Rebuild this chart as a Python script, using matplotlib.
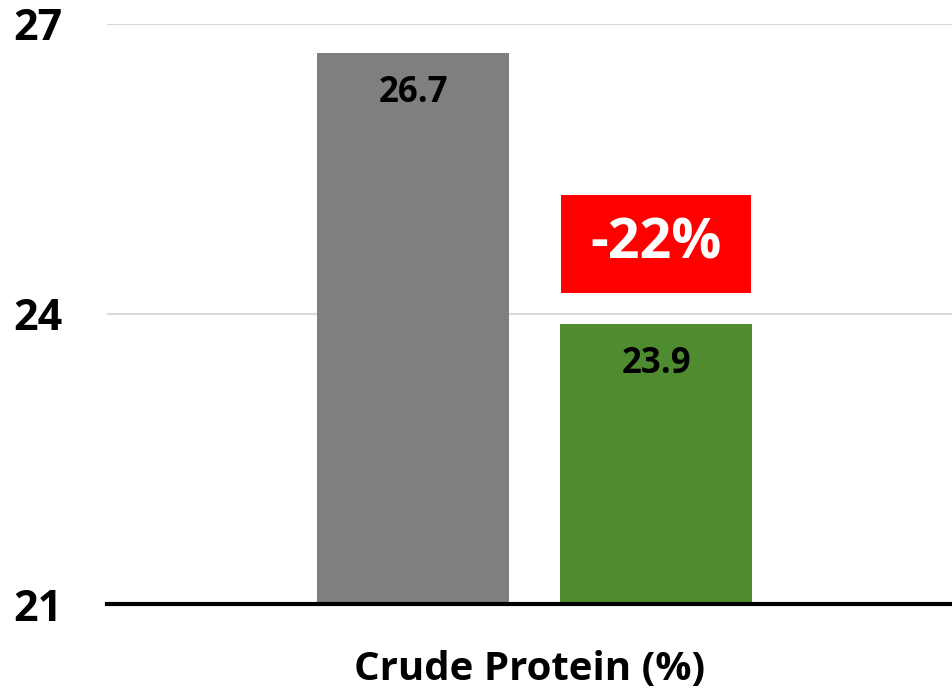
import matplotlib.pyplot as plt

plt.rcParams['font.family'] = ['Open Sans', 'DejaVu Sans']

groups = ['before', 'after']
values = [26.7, 23.9]
colors = ['#7F7F7F', '#4E8C2F']
change_label = '-22%'
box_bottom, box_top = 24.22, 25.23
yticks = [21, 24, 27]
xlabel = 'Crude Protein (%)'

fig = plt.figure(figsize=(9.53, 6.91), dpi=100)
ax = fig.add_axes([0.1123, 0.1259, 0.8877, 0.8394])

x = list(range(len(values)))
bars = ax.bar(x, [v - 21 for v in values], bottom=21, width=0.79, color=colors, zorder=3)

for xi, v in zip(x, values):
    ax.annotate(f'{v:.1f}', (xi, v), xytext=(0, -29), textcoords='offset points',
                ha='center', va='center', fontsize=25, fontweight='bold', color='black', zorder=4)

# red change box over the second bar
ax.bar(x[1], box_top - box_bottom, bottom=box_bottom, width=0.778, color='#FF0000', zorder=3)
ax.text(x[1], (box_top + box_bottom) / 2, change_label, ha='center', va='center',
        fontsize=40, fontweight='bold', color='white', zorder=4)

ax.set_xlim(-1.259, 2.222)
ax.set_ylim(21, 27)
ax.set_yticks(yticks)
ax.set_yticklabels([str(t) for t in yticks], fontsize=31, fontweight='bold')
ax.tick_params(axis='y', length=0, pad=32)
ax.set_xticks([])
ax.set_xlabel(xlabel, fontsize=29, fontweight='bold', labelpad=33)

for s in ['top', 'right', 'left']:
    ax.spines[s].set_visible(False)
ax.spines['bottom'].set_linewidth(3)
ax.spines['bottom'].set_zorder(5)
ax.grid(axis='y', color='#D9D9D9', linewidth=1.5, zorder=0)
ax.set_axisbelow(True)

fig.savefig('out.png', dpi=100)
